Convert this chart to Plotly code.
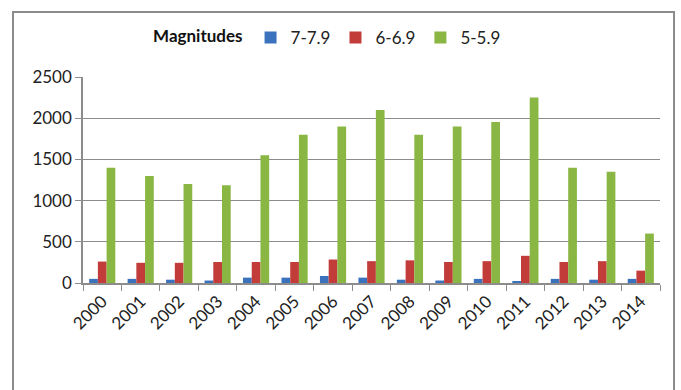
import plotly.graph_objects as go

years = [str(y) for y in range(2000, 2015)]
mag_7 = [50, 50, 40, 30, 65, 65, 85, 65, 40, 30, 50, 15, 50, 40, 50]
mag_6 = [260, 245, 245, 255, 255, 255, 285, 265, 275, 255, 265, 330, 255, 265, 150]
mag_5 = [1400, 1300, 1200, 1185, 1550, 1800, 1900, 2100, 1800, 1900, 1955, 2250, 1400, 1350, 600]

series = [
    ("7-7.9", mag_7, "#3b72bd"),
    ("6-6.9", mag_6, "#c23d3a"),
    ("5-5.9", mag_5, "#8ab643"),
]

FONT = "Lato, 'Open Sans', sans-serif"

fig = go.Figure()
for name, vals, color in series:
    fig.add_trace(go.Bar(x=years, y=vals, name=name, marker=dict(color=color, line=dict(width=0))))

fig.update_layout(
    width=681, height=390,
    margin=dict(l=83, r=21, t=77, b=107),
    paper_bgcolor="white", plot_bgcolor="white",
    barmode="group", bargap=0.32, bargroupgap=0,
    font=dict(family=FONT, size=17, color="#222222"),
    legend=dict(
        orientation="h", x=0.118, y=1.19, xanchor="left", yanchor="middle",
        title=dict(text="<b>Magnitudes</b>", side="left", font=dict(size=17, color="#111")),
        font=dict(size=17, color="#222"), bgcolor="rgba(0,0,0,0)",
        itemwidth=30, tracegroupgap=0,
    ),
    xaxis=dict(
        showline=True, linecolor="#8c8c8c", linewidth=1.5,
        ticks="outside", ticklen=6, tickcolor="#8c8c8c",
        tickson="boundaries", tickangle=-45,
        tickfont=dict(size=17, color="#222"),
    ),
    yaxis=dict(
        range=[0, 2500], dtick=500, showgrid=True, gridcolor="#8c8c8c", gridwidth=1.3,
        showline=True, linecolor="#8c8c8c", linewidth=1.5,
        ticks="outside", ticklen=6, tickcolor="#8c8c8c",
        zeroline=False, tickfont=dict(size=17, color="#222"),
    ),
    shapes=[dict(
        type="rect", xref="paper", yref="paper",
        x0=-0.1213, x1=1.0243, y0=-0.6, y1=1.3155,
        line=dict(color="#8c8c8c", width=2), fillcolor="rgba(0,0,0,0)", layer="below",
    )],
)

fig.write_html("out.html")
